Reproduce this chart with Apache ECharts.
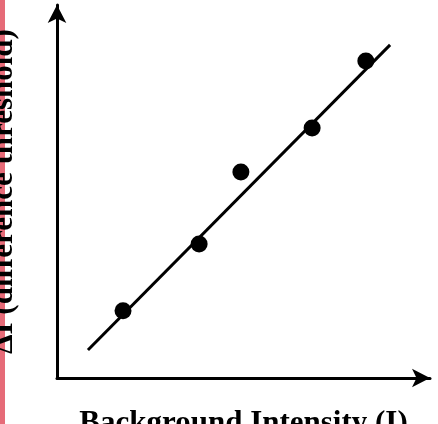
<!DOCTYPE html>
<html><head><meta charset="utf-8">
<script src="https://cdn.jsdelivr.net/npm/echarts@6/dist/echarts.min.js"></script>
<style>html,body{margin:0;padding:0;background:#fff}#c{width:438px;height:424px}</style>
</head><body><div id="c"></div>
<script>
const pointsX = [17.7, 38.1, 49.3, 68.4, 82.8];
const pointsY = [18.0, 35.9, 55.2, 67.0, 85.0];
const lineX = [8.3, 89.3];
const lineY = [7.5, 89.3];
const xName = 'Background Intensity (I)';
const yName = 'ΔI (difference threshold)';
const chart = echarts.init(document.getElementById('c'));
const font = {fontFamily:'Liberation Serif', fontWeight:'bold', fontSize:31, color:'#000'};
chart.setOption({
  animation:false,
  grid:{left:57, top:5, width:373, height:373, containLabel:false, outerBoundsMode:'none'},
  xAxis:{type:'value', min:0, max:100, splitLine:{show:false}, axisTick:{show:false}, axisLabel:{show:false},
    axisLine:{lineStyle:{color:'#000', width:3}, symbol:['none','arrow'], symbolSize:[14,18]},
    name:xName, nameLocation:'middle', nameGap:30, nameTextStyle:font},
  yAxis:{type:'value', min:0, max:100, splitLine:{show:false}, axisTick:{show:false}, axisLabel:{show:false},
    axisLine:{lineStyle:{color:'#000', width:3}, symbol:['none','arrow'], symbolSize:[14,18]},
    name:yName, nameLocation:'middle', nameGap:38, nameTextStyle:font},
  graphic:[{type:'rect', shape:{x:0,y:0,width:5,height:424}, style:{fill:'#e66b78'}}],
  series:[
    {type:'line', data:lineX.map((x,i)=>[x,lineY[i]]), symbol:'none', lineStyle:{color:'#000', width:3}},
    {type:'scatter', data:pointsX.map((x,i)=>[x,pointsY[i]]), symbolSize:17, itemStyle:{color:'#000', opacity:1}}
  ]
});
</script></body></html>
